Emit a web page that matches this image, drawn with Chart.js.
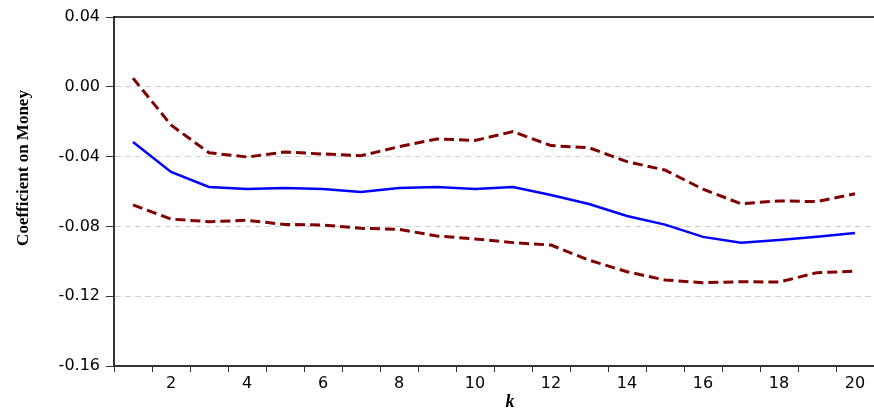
<!DOCTYPE html>
<html>
<head>
<meta charset="utf-8">
<script src="https://cdn.jsdelivr.net/npm/chart.js@4/dist/chart.umd.min.js"></script>
<style>
  body { margin: 0; background: #fff; }
  #wrap { width: 874px; height: 412px; }
</style>
</head>
<body>
<div id="wrap"><canvas id="chart" width="874" height="412"></canvas></div>
<script>
// Data
const kValues = ['1','2','3','4','5','6','7','8','9','10','11','12','13','14','15','16','17','18','19','20'];
const coefficient = [-0.0316, -0.0488, -0.0574, -0.0586, -0.0580, -0.0586, -0.0603, -0.0580, -0.0574, -0.0586,
                     -0.0574, -0.0620, -0.0672, -0.0740, -0.0790, -0.0860, -0.0893, -0.0878, -0.0860, -0.0838];
const upperBand = [0.0050, -0.0219, -0.0378, -0.0402, -0.0374, -0.0385, -0.0395, -0.0343, -0.0299, -0.0307,
                   -0.0257, -0.0337, -0.0349, -0.0429, -0.0477, -0.0587, -0.0670, -0.0654, -0.0658, -0.0613];
const lowerBand = [-0.0677, -0.0758, -0.0773, -0.0765, -0.0789, -0.0792, -0.0811, -0.0817, -0.0855, -0.0872,
                   -0.0893, -0.0907, -0.0993, -0.1060, -0.1107, -0.1123, -0.1117, -0.1119, -0.1065, -0.1057];
const yMin = -0.16, yMax = 0.04, yStep = 0.04;
const yTitle = 'Coefficient on Money';
const xTitle = 'k';

const tickFont = { family: '"DejaVu Sans", Verdana, sans-serif', size: 16 };

// Extra drawing: top frame line and axis titles
const extras = {
    id: 'extras',
    afterDraw(chart) {
        const { ctx, chartArea } = chart;
        ctx.save();
        ctx.strokeStyle = '#000';
        ctx.lineWidth = 1.5;
        ctx.beginPath();
        ctx.moveTo(chartArea.left, chartArea.top);
        ctx.lineTo(chartArea.right, chartArea.top);
        ctx.stroke();

        ctx.fillStyle = '#000';
        ctx.textAlign = 'center';
        ctx.textBaseline = 'middle';
        ctx.font = 'bold 17px "Liberation Serif", "Times New Roman", serif';
        ctx.translate(24, 168);
        ctx.rotate(-Math.PI / 2);
        ctx.fillText(yTitle, 0, 0);
        ctx.restore();

        ctx.save();
        ctx.fillStyle = '#000';
        ctx.textAlign = 'center';
        ctx.textBaseline = 'middle';
        ctx.font = 'italic bold 18px "Liberation Serif", "Times New Roman", serif';
        ctx.fillText(xTitle, 510, 402);
        ctx.restore();
    }
};

const ctx = document.getElementById('chart').getContext('2d');
new Chart(ctx, {
    type: 'line',
    data: {
        labels: kValues,
        datasets: [
            {
                data: upperBand,
                borderColor: '#800000',
                borderWidth: 3,
                borderDash: [10, 5],
                pointRadius: 0,
                tension: 0
            },
            {
                data: lowerBand,
                borderColor: '#800000',
                borderWidth: 3,
                borderDash: [10, 5],
                pointRadius: 0,
                tension: 0
            },
            {
                data: coefficient,
                borderColor: '#0000ff',
                borderWidth: 2.5,
                pointRadius: 0,
                tension: 0
            }
        ]
    },
    options: {
        responsive: false,
        animation: false,
        layout: { padding: { top: 17, right: 0, left: 0, bottom: 0 } },
        plugins: {
            legend: { display: false },
            tooltip: { enabled: false }
        },
        scales: {
            x: {
                offset: true,
                afterFit: (scale) => { scale.height = 46; },
                grid: {
                    offset: true,
                    drawOnChartArea: false,
                    tickLength: 6,
                    tickColor: '#333'
                },
                border: { color: '#333', width: 2 },
                ticks: {
                    autoSkip: false,
                    maxRotation: 0,
                    padding: 2,
                    color: '#000',
                    font: tickFont,
                    callback: (val, i) => ((i + 1) % 2 === 0 ? kValues[i] : '')
                }
            },
            y: {
                min: yMin,
                max: yMax,
                afterFit: (scale) => { scale.width = 114; },
                grid: {
                    tickLength: 8,
                    tickColor: '#333',
                    color: (c) => {
                        const v = c.tick ? c.tick.value : 0;
                        if (Math.abs(v - yMax) < 1e-9 || Math.abs(v - yMin) < 1e-9) return 'rgba(0,0,0,0)';
                        return '#d0d0d0';
                    },
                    lineWidth: 1
                },
                border: { color: '#333', width: 2, dash: [6, 4] },
                ticks: {
                    stepSize: yStep,
                    padding: 6,
                    color: '#000',
                    font: tickFont,
                    callback: (v) => (Math.abs(v) < 1e-9 ? '0.00' : Number(v).toFixed(2))
                }
            }
        }
    },
    plugins: [extras]
});
</script>
</body>
</html>
